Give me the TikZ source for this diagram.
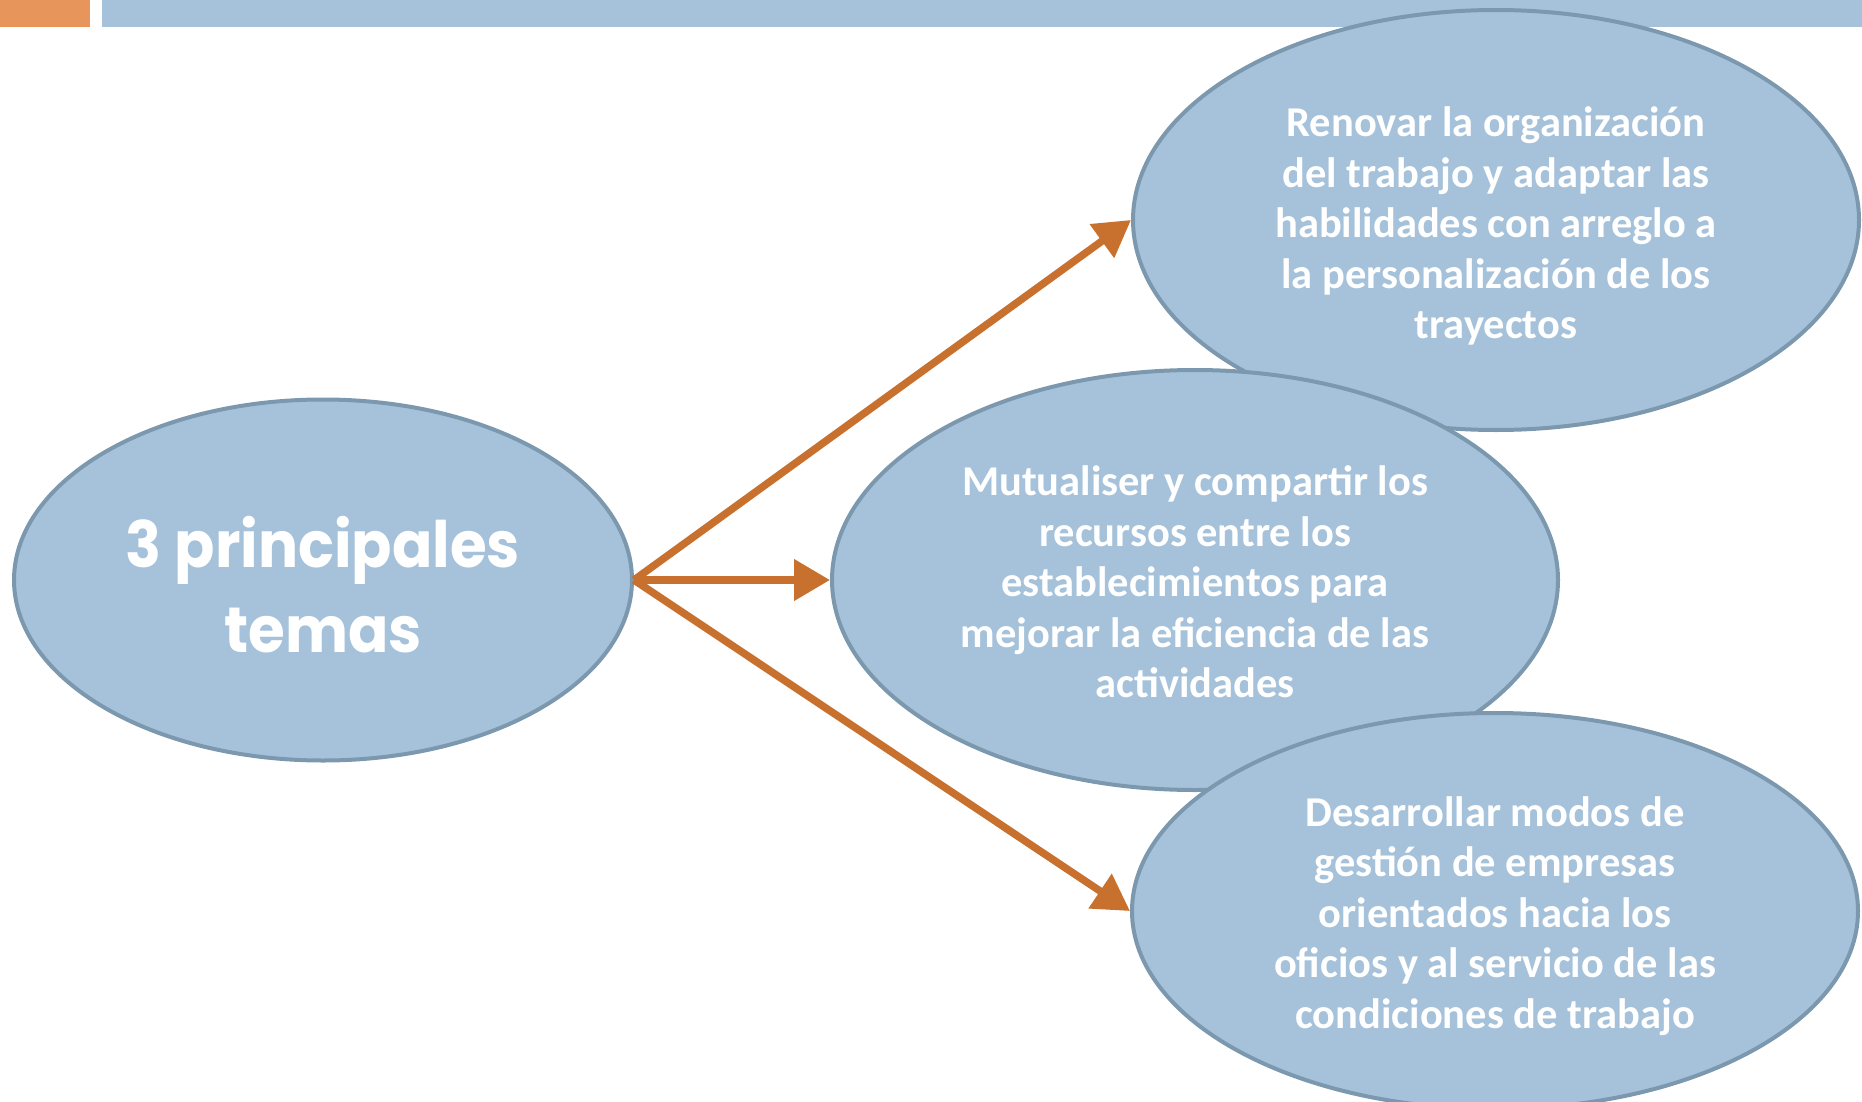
\documentclass[tikz,border=0pt]{standalone}
\usepackage{fontspec}
\setmainfont{Carlito}
\newfontfamily\titlefont{Poppins}
\usetikzlibrary{shapes.geometric,arrows.meta}
\definecolor{bub}{HTML}{A5C2DA}
\definecolor{bord}{HTML}{7B98AE}
\definecolor{arr}{HTML}{C8702D}
\definecolor{obar}{HTML}{E8955B}
\begin{document}
\begin{tikzpicture}[x=1pt,y=-1pt,
  bubble/.style={ellipse, draw=bord, fill=bub, line width=4pt, inner sep=0pt,
    minimum width=726pt, minimum height=420pt},
  btext/.style={text=white, align=center, inner sep=0pt,
    font=\bfseries\fontsize{42.5}{50.5}\selectfont},
  conn/.style={draw=arr, line width=7.5pt, -{Triangle[length=36pt,width=40pt]}}]
\useasboundingbox (0,0) rectangle (1862,1102);
\clip (0,0) rectangle (1862,1102);
\fill[obar] (0,0) rectangle (90,27);
\fill[bub] (102,0) rectangle (1862,27);
\node[bubble] (top) at (1496,220) {};
\node[btext] (toptxt) at (1496,226) {Renovar la organización\\del trabajo y adaptar las\\habilidades con arreglo a\\la personalización de los\\trayectos};
\node[bubble] (mid) at (1195,580) {};
\node[btext] (midtxt) at (1195,582) {Mutualiser y compartir los\\recursos entre los\\establecimientos para\\mejorar la eficiencia de las\\actividades};
\node[bubble, minimum height=396pt] (bot) at (1495,911) {};
\node[btext] (bottxt) at (1495,916) {Desarrollar modos de\\gestión de empresas\\orientados hacia los\\oficios y al servicio de las\\condiciones de trabajo};
\node[bubble, minimum width=618pt, minimum height=361pt] (main) at (323,580) {};
\node[text=white, align=center, inner sep=0pt,
  font=\titlefont\bfseries\fontsize{64}{85}\selectfont] (maintxt) at (323,585)
  {\scalebox{0.93}[1]{3 principales}\\\scalebox{0.93}[1]{temas}};
\draw[conn] (main.east) -- (top.west);
\draw[conn] (main.east) -- (mid.west);
\draw[conn] (main.east) -- (bot.west);
\end{tikzpicture}
\end{document}
